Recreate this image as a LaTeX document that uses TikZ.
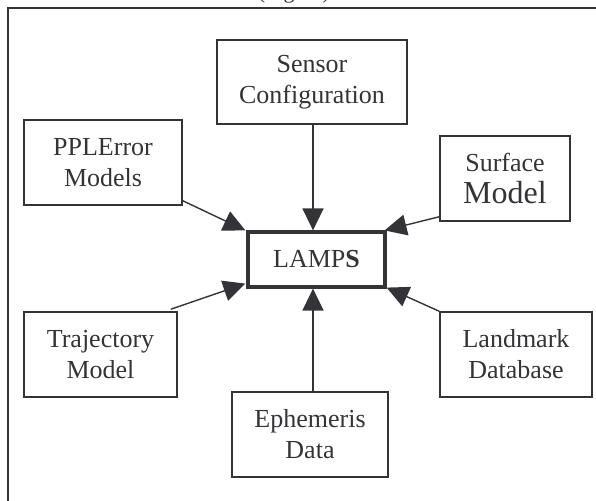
\documentclass[tikz,border=0pt]{standalone}
\usepackage{fontspec}
\setmainfont{Liberation Serif}
\usetikzlibrary{arrows.meta,calc}
\definecolor{ink}{RGB}{52,52,56}
\tikzset{
  blk/.style={draw=ink, line width=1.5pt, text=ink, inner sep=0pt, align=center,
    font=\fontsize{26pt}{31pt}\selectfont},
  mainblk/.style={blk, line width=3.2pt},
  feed/.style={draw=ink, line width=1.4pt, -{Triangle[length=22pt,width=21pt]}, color=ink},
  frame/.style={draw=ink, line width=1.4pt}
}
\begin{document}
\begin{tikzpicture}[x=1pt,y=-1pt]
\useasboundingbox (0,0) rectangle (596,500);
\clip (0,0) rectangle (596,500);
% clipped caption at the very top
\node[text=ink, anchor=base, inner sep=0pt, font=\fontsize{22pt}{26pt}\selectfont] (cap) at (294,-1) {(Figure)};
% outer frame (only top and left edges visible)
\coordinate (fbl) at (8,520);
\coordinate (ftl) at (8,8);
\coordinate (ftr) at (620,8);
\draw[frame] (fbl) -- (ftl) -- (ftr);
% blocks
\node[blk, minimum width=190pt, minimum height=84pt] (sensor) at (312,82) {Sensor\\Configuration};
\node[blk, minimum width=158pt, minimum height=85pt] (ppl) at (103,162.5) {PPLError\\Models};
\node[blk, minimum width=130pt, minimum height=85pt] (surf) at (505,178.5) {Surface\\[1pt]{\fontsize{32pt}{34pt}\selectfont Model}};
\node[mainblk, minimum width=137pt, minimum height=55pt] (lamps) at (316.5,259.5) {LAMP\textbf{S}};
\node[blk, minimum width=153pt, minimum height=85pt] (traj) at (100.5,354.5) {Trajectory\\Model};
\node[blk, minimum width=152pt, minimum height=85pt] (land) at (516,354.5) {Landmark\\Database};
\node[blk, minimum width=156pt, minimum height=85pt] (eph) at (310,434.5) {Ephemeris\\Data};
% connector end points
\coordinate (sOut) at ($(sensor.south)+(1,0)$);
\coordinate (eOut) at ($(eph.north)+(3,0)$);
\coordinate (pOut) at ($(ppl.south east)+(0,-5)$);
\coordinate (fOut) at ($(surf.south west)+(0,-5)$);
\coordinate (tOut) at ($(traj.north east)+(-7,-2)$);
\coordinate (pIn) at ($(lamps.north west)+(-1,0)$);
\coordinate (fIn) at ($(lamps.north east)+(-2,0)$);
\coordinate (tIn) at ($(lamps.south west)+(-1,-5)$);
\coordinate (lIn) at ($(lamps.south east)+(0,-1)$);
% connectors
\draw[feed] (sOut) -- (sOut |- lamps.north);
\draw[feed] (pOut) -- (pIn);
\draw[feed] (fOut) -- (fIn);
\draw[feed] (tOut) -- (tIn);
\draw[feed] (land.north west) -- (lIn);
\draw[feed] (eOut) -- (eOut |- lamps.south);
\end{tikzpicture}
\end{document}
